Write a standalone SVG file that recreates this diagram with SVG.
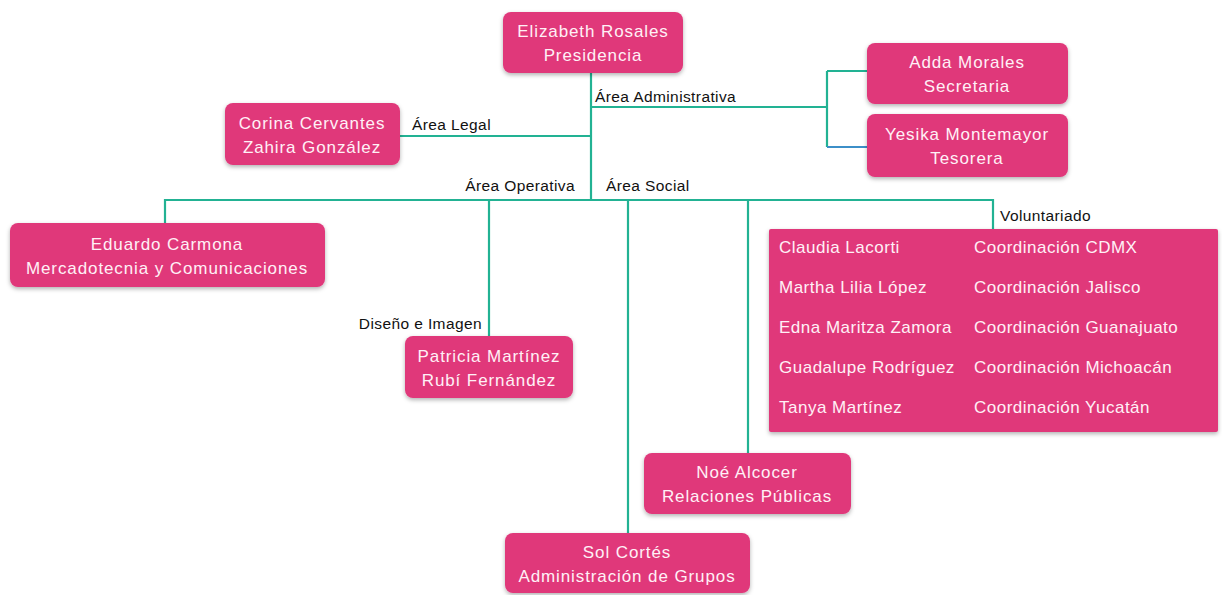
<svg xmlns="http://www.w3.org/2000/svg" width="1222" height="595" viewBox="0 0 1222 595">
<defs>
<filter id="sh" x="-10%" y="-20%" width="120%" height="150%">
<feDropShadow dx="0" dy="2" stdDeviation="2.2" flood-color="#000" flood-opacity="0.3"/>
</filter>
<style>
.box{fill:#E0387A;filter:url(#sh);}
.nt{font-family:"Liberation Sans",Arial,sans-serif;font-size:17px;letter-spacing:0.9px;fill:#FFF0F6;text-anchor:middle;}
.lt{font-family:"Liberation Sans",Arial,sans-serif;font-size:17px;letter-spacing:0.5px;fill:#FFF0F6;}
.lbl{font-family:"Liberation Sans",Arial,sans-serif;font-size:15.5px;letter-spacing:0.4px;fill:#111;}
.ln{stroke:#22B293;stroke-width:2.2;fill:none;}
.lnb{stroke:#3C8FC8;stroke-width:2.2;fill:none;}
</style>
</defs>
<rect width="1222" height="595" fill="#fff"/>
<g id="connectors">
<path class="ln" d="M591 73V200"/>
<path class="ln" d="M591 107H827M827 71V147M827 71H867"/>
<path class="lnb" d="M827 147H867"/>
<path class="ln" d="M400 136H591"/>
<path class="ln" d="M165 223V200H993V229"/>
<path class="ln" d="M489 200V336"/>
<path class="ln" d="M628 200V533"/>
<path class="ln" d="M748 200V453"/>
</g>
<g id="labels">
<text class="lbl" x="595" y="102">Área Administrativa</text>
<text class="lbl" x="412" y="130">Área Legal</text>
<text class="lbl" x="575" y="191" text-anchor="end">Área Operativa</text>
<text class="lbl" x="606" y="191">Área Social</text>
<text class="lbl" x="482" y="329" text-anchor="end">Diseño e Imagen</text>
<text class="lbl" x="1000" y="221">Voluntariado</text>
</g>
<g id="presidencia">
<rect class="box" x="503" y="12" width="180" height="61" rx="8"/>
<text class="nt" x="593" y="37">Elizabeth Rosales</text>
<text class="nt" x="593" y="61">Presidencia</text>
</g>
<g id="secretaria">
<rect class="box" x="867" y="43" width="201" height="61" rx="8"/>
<text class="nt" x="967" y="68">Adda Morales</text>
<text class="nt" x="967" y="92">Secretaria</text>
</g>
<g id="tesorera">
<rect class="box" x="867" y="114" width="201" height="63" rx="8"/>
<text class="nt" x="967" y="140">Yesika Montemayor</text>
<text class="nt" x="967" y="164">Tesorera</text>
</g>
<g id="legal">
<rect class="box" x="225" y="103" width="175" height="62" rx="8"/>
<text class="nt" x="312" y="129">Corina Cervantes</text>
<text class="nt" x="312" y="153">Zahira González</text>
</g>
<g id="mercadotecnia">
<rect class="box" x="10" y="223" width="315" height="64" rx="8"/>
<text class="nt" x="167" y="250">Eduardo Carmona</text>
<text class="nt" x="167" y="274">Mercadotecnia y Comunicaciones</text>
</g>
<g id="diseno">
<rect class="box" x="405" y="336" width="168" height="62" rx="8"/>
<text class="nt" x="489" y="362">Patricia Martínez</text>
<text class="nt" x="489" y="386">Rubí Fernández</text>
</g>
<g id="relaciones">
<rect class="box" x="644" y="453" width="207" height="61" rx="8"/>
<text class="nt" x="747" y="478">Noé Alcocer</text>
<text class="nt" x="747" y="502">Relaciones Públicas</text>
</g>
<g id="grupos">
<rect class="box" x="505" y="533" width="245" height="60" rx="8"/>
<text class="nt" x="627" y="558">Sol Cortés</text>
<text class="nt" x="627" y="582">Administración de Grupos</text>
</g>
<g id="voluntariado">
<rect class="box" x="769" y="229" width="449" height="203" rx="2"/>
<text class="lt" x="779" y="253">Claudia Lacorti</text>
<text class="lt" x="779" y="293">Martha Lilia López</text>
<text class="lt" x="779" y="333">Edna Maritza Zamora</text>
<text class="lt" x="779" y="373">Guadalupe Rodríguez</text>
<text class="lt" x="779" y="413">Tanya Martínez</text>
<text class="lt" x="974" y="253">Coordinación CDMX</text>
<text class="lt" x="974" y="293">Coordinación Jalisco</text>
<text class="lt" x="974" y="333">Coordinación Guanajuato</text>
<text class="lt" x="974" y="373">Coordinación Michoacán</text>
<text class="lt" x="974" y="413">Coordinación Yucatán</text>
</g>
</svg>
